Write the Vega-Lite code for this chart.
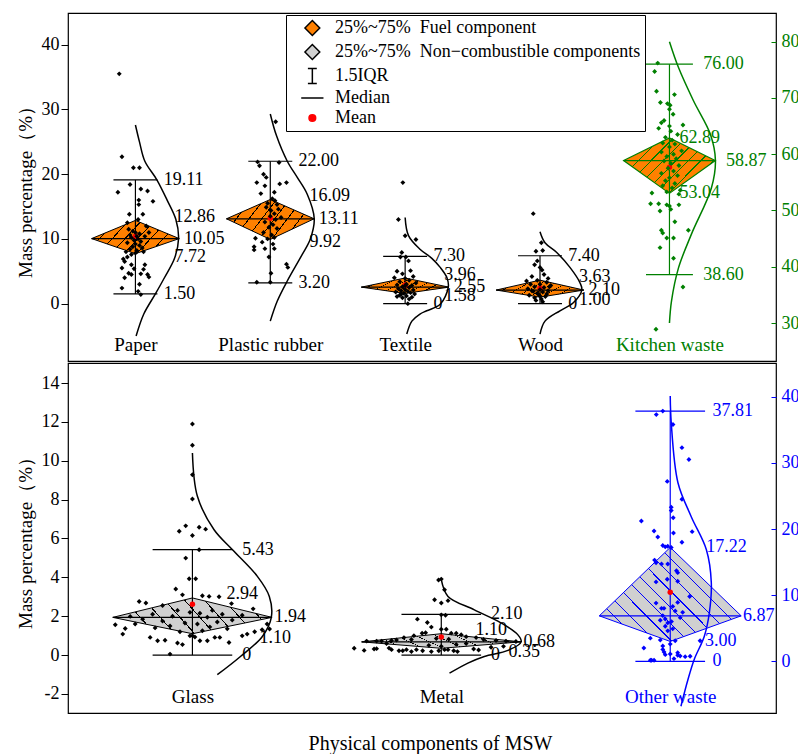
{
"$schema": "https://vega.github.io/schema/vega-lite/v6.json",
"padding": {"left": 15, "top": 12, "right": 0, "bottom": 0},
"spacing": 0,
"config": {
  "font": "Liberation Serif",
  "view": {"stroke": "black", "strokeWidth": 1.2},
  "axis": {"labelFont": "Liberation Serif", "titleFont": "Liberation Serif", "labelFontSize": 18, "titleFontSize": 19, "titleFontWeight": "normal", "labelColor": "black", "titleColor": "black", "tickColor": "black", "grid": false}
},
"datasets": {
  "stats": [
    {"c": "Paper", "g": "TL", "pos": 1, "wlo": 1.5, "q25": 7.72, "med": 10.05, "q75": 12.86, "whi": 19.11, "mean": 10.4},
    {"c": "Plastic rubber", "g": "TL", "pos": 2, "wlo": 3.2, "q25": 9.92, "med": 13.11, "q75": 16.09, "whi": 22.0, "mean": 13.2},
    {"c": "Textile", "g": "TL", "pos": 3, "wlo": 0, "q25": 1.58, "med": 2.55, "q75": 3.96, "whi": 7.3, "mean": 2.9},
    {"c": "Wood", "g": "TL", "pos": 4, "wlo": 0, "q25": 1.0, "med": 2.1, "q75": 3.63, "whi": 7.4, "mean": 2.4},
    {"c": "Kitchen waste", "g": "TR", "pos": 4.96, "wlo": 38.6, "q25": 53.04, "med": 58.87, "q75": 62.89, "whi": 76.0, "mean": 57.7},
    {"c": "Glass", "g": "BL", "pos": 1, "wlo": 0, "q25": 1.1, "med": 1.94, "q75": 2.94, "whi": 5.43, "mean": 2.62},
    {"c": "Metal", "g": "BL", "pos": 2, "wlo": 0, "q25": 0.35, "med": 0.68, "q75": 1.1, "whi": 2.1, "mean": 0.93},
    {"c": "Other waste", "g": "BR", "pos": 2.92, "wlo": 0, "q25": 3.0, "med": 6.87, "q75": 17.22, "whi": 37.81, "mean": 10.44}
  ],
  "curve": [
    {"c":"Paper","dx":0,"v":27.6},{"c":"Paper","dx":0.03,"v":25},{"c":"Paper","dx":0.07,"v":22},{"c":"Paper","dx":0.16,"v":19.1},{"c":"Paper","dx":0.235,"v":16},{"c":"Paper","dx":0.3,"v":13},{"c":"Paper","dx":0.32,"v":10.05},{"c":"Paper","dx":0.29,"v":7},{"c":"Paper","dx":0.215,"v":4},{"c":"Paper","dx":0.148,"v":1.5},{"c":"Paper","dx":0.062,"v":-1.6},{"c":"Paper","dx":0.005,"v":-5},
    {"c":"Plastic rubber","dx":0,"v":29.3},{"c":"Plastic rubber","dx":0.045,"v":26},{"c":"Plastic rubber","dx":0.126,"v":22},{"c":"Plastic rubber","dx":0.2,"v":19.5},{"c":"Plastic rubber","dx":0.274,"v":16.9},{"c":"Plastic rubber","dx":0.326,"v":13.11},{"c":"Plastic rubber","dx":0.297,"v":10},{"c":"Plastic rubber","dx":0.237,"v":7.6},{"c":"Plastic rubber","dx":0.126,"v":3.5},{"c":"Plastic rubber","dx":0.052,"v":0.4},{"c":"Plastic rubber","dx":0,"v":-2.7},
    {"c":"Textile","dx":0,"v":13.3},{"c":"Textile","dx":0.025,"v":10.5},{"c":"Textile","dx":0.11,"v":8.4},{"c":"Textile","dx":0.198,"v":7.0},{"c":"Textile","dx":0.26,"v":5.6},{"c":"Textile","dx":0.31,"v":4.0},{"c":"Textile","dx":0.32,"v":2.55},{"c":"Textile","dx":0.26,"v":-0.1},{"c":"Textile","dx":0.16,"v":-1.1},{"c":"Textile","dx":0.11,"v":-1.6},{"c":"Textile","dx":0.05,"v":-2.7},{"c":"Textile","dx":0.012,"v":-4.7},
    {"c":"Wood","dx":0,"v":11.1},{"c":"Wood","dx":0.037,"v":9.4},{"c":"Wood","dx":0.124,"v":7.9},{"c":"Wood","dx":0.222,"v":5.6},{"c":"Wood","dx":0.297,"v":3.2},{"c":"Wood","dx":0.31,"v":2.1},{"c":"Wood","dx":0.247,"v":0.15},{"c":"Wood","dx":0.148,"v":-1.1},{"c":"Wood","dx":0.037,"v":-2.7},{"c":"Wood","dx":0,"v":-4.7},
    {"c":"Kitchen waste","dx":0,"v":80},{"c":"Kitchen waste","dx":0.067,"v":75.4},{"c":"Kitchen waste","dx":0.178,"v":69.5},{"c":"Kitchen waste","dx":0.304,"v":63.5},{"c":"Kitchen waste","dx":0.341,"v":58.87},{"c":"Kitchen waste","dx":0.311,"v":54},{"c":"Kitchen waste","dx":0.163,"v":45.8},{"c":"Kitchen waste","dx":0.067,"v":39.8},{"c":"Kitchen waste","dx":0.015,"v":33.9},{"c":"Kitchen waste","dx":0,"v":30},
    {"c":"Glass","dx":0,"v":10.4},{"c":"Glass","dx":0.02,"v":8.17},{"c":"Glass","dx":0.087,"v":6.45},{"c":"Glass","dx":0.161,"v":5.42},{"c":"Glass","dx":0.261,"v":4.05},{"c":"Glass","dx":0.309,"v":3.02},{"c":"Glass","dx":0.317,"v":1.94},{"c":"Glass","dx":0.281,"v":0.96},{"c":"Glass","dx":0.193,"v":-0.07},{"c":"Glass","dx":0.1,"v":-1.01},
    {"c":"Metal","dx":0,"v":3.88},{"c":"Metal","dx":0.027,"v":3.02},{"c":"Metal","dx":0.133,"v":2.33},{"c":"Metal","dx":0.241,"v":1.65},{"c":"Metal","dx":0.308,"v":1.04},{"c":"Metal","dx":0.321,"v":0.68},{"c":"Metal","dx":0.268,"v":0.24},{"c":"Metal","dx":0.173,"v":-0.07},{"c":"Metal","dx":0.107,"v":-0.41},{"c":"Metal","dx":0.033,"v":-0.93},
    {"c":"Other waste","dx":0,"v":40.1},{"c":"Other waste","dx":0.004,"v":36.1},{"c":"Other waste","dx":0.031,"v":27.0},{"c":"Other waste","dx":0.084,"v":21.9},{"c":"Other waste","dx":0.145,"v":16.9},{"c":"Other waste","dx":0.165,"v":11.9},{"c":"Other waste","dx":0.157,"v":7.3},{"c":"Other waste","dx":0.137,"v":3.8},{"c":"Other waste","dx":0.096,"v":0.24},{"c":"Other waste","dx":0.071,"v":-2.8},{"c":"Other waste","dx":0.043,"v":-6.8}
  ],
  "pts": [
    {"c":"Paper","dx":-0.12,"v":35.5},{"c":"Paper","dx":-0.10,"v":22.7},{"c":"Paper","dx":-0.015,"v":21.0},{"c":"Paper","dx":0.03,"v":21.0},{"c":"Paper","dx":-0.04,"v":18.4},{"c":"Paper","dx":-0.13,"v":17.2},{"c":"Paper","dx":0.04,"v":17.7},{"c":"Paper","dx":0.09,"v":17.4},{"c":"Paper","dx":0.025,"v":16.0},{"c":"Paper","dx":0.025,"v":15.3},{"c":"Paper","dx":0.13,"v":15.8},{"c":"Paper","dx":-0.045,"v":13.8},{"c":"Paper","dx":0.055,"v":13.8},{"c":"Paper","dx":-0.06,"v":12.5},{"c":"Paper","dx":0.02,"v":13.0},{"c":"Paper","dx":-0.05,"v":11.5},{"c":"Paper","dx":-0.02,"v":11.2},{"c":"Paper","dx":0.0,"v":11.0},{"c":"Paper","dx":0.03,"v":10.8},{"c":"Paper","dx":-0.04,"v":10.6},{"c":"Paper","dx":0.01,"v":10.4},{"c":"Paper","dx":0.07,"v":10.4},{"c":"Paper","dx":-0.03,"v":10.2},{"c":"Paper","dx":0.02,"v":10.0},{"c":"Paper","dx":-0.01,"v":9.8},{"c":"Paper","dx":0.04,"v":9.6},{"c":"Paper","dx":-0.06,"v":9.4},{"c":"Paper","dx":0.0,"v":9.2},{"c":"Paper","dx":0.03,"v":9.0},{"c":"Paper","dx":-0.02,"v":8.8},{"c":"Paper","dx":0.05,"v":8.6},{"c":"Paper","dx":-0.04,"v":8.4},{"c":"Paper","dx":0.01,"v":8.2},{"c":"Paper","dx":-0.07,"v":8.0},{"c":"Paper","dx":0.06,"v":8.0},{"c":"Paper","dx":0.0,"v":7.8},{"c":"Paper","dx":-0.03,"v":7.6},{"c":"Paper","dx":-0.09,"v":6.9},{"c":"Paper","dx":-0.08,"v":6.5},{"c":"Paper","dx":-0.1,"v":5.5},{"c":"Paper","dx":-0.03,"v":6.0},{"c":"Paper","dx":0.07,"v":6.0},{"c":"Paper","dx":-0.01,"v":5.4},{"c":"Paper","dx":0.06,"v":5.3},{"c":"Paper","dx":-0.05,"v":4.7},{"c":"Paper","dx":-0.03,"v":4.5},{"c":"Paper","dx":-0.08,"v":4.0},{"c":"Paper","dx":0.04,"v":4.6},{"c":"Paper","dx":0.09,"v":4.5},{"c":"Paper","dx":0.03,"v":3.0},{"c":"Paper","dx":-0.1,"v":2.4},{"c":"Paper","dx":0.02,"v":1.9},{"c":"Paper","dx":0.04,"v":1.4},{"c":"Paper","dx":0.1,"v":4.1},{"c":"Paper","dx":-0.06,"v":7.2},{"c":"Paper","dx":0.08,"v":12.0},{"c":"Paper","dx":0.1,"v":11.0},
    {"c":"Plastic rubber","dx":0.04,"v":28.1},{"c":"Plastic rubber","dx":-0.094,"v":21.9},{"c":"Plastic rubber","dx":-0.08,"v":21.3},{"c":"Plastic rubber","dx":0.065,"v":21.8},{"c":"Plastic rubber","dx":-0.05,"v":20.0},{"c":"Plastic rubber","dx":-0.03,"v":19.5},{"c":"Plastic rubber","dx":-0.1,"v":18.7},{"c":"Plastic rubber","dx":-0.04,"v":18.2},{"c":"Plastic rubber","dx":0.07,"v":18.5},{"c":"Plastic rubber","dx":0.12,"v":18.7},{"c":"Plastic rubber","dx":0.03,"v":17.2},{"c":"Plastic rubber","dx":-0.07,"v":17.0},{"c":"Plastic rubber","dx":0.015,"v":16.2},{"c":"Plastic rubber","dx":0.035,"v":15.9},{"c":"Plastic rubber","dx":0.05,"v":15.3},{"c":"Plastic rubber","dx":-0.03,"v":14.9},{"c":"Plastic rubber","dx":0.005,"v":14.4},{"c":"Plastic rubber","dx":0.03,"v":13.9},{"c":"Plastic rubber","dx":-0.02,"v":15.5},{"c":"Plastic rubber","dx":0.06,"v":14.6},{"c":"Plastic rubber","dx":0.0,"v":13.5},{"c":"Plastic rubber","dx":0.04,"v":13.0},{"c":"Plastic rubber","dx":-0.04,"v":12.6},{"c":"Plastic rubber","dx":0.02,"v":12.2},{"c":"Plastic rubber","dx":-0.01,"v":11.8},{"c":"Plastic rubber","dx":0.05,"v":11.6},{"c":"Plastic rubber","dx":-0.05,"v":11.0},{"c":"Plastic rubber","dx":0.01,"v":10.6},{"c":"Plastic rubber","dx":0.03,"v":10.2},{"c":"Plastic rubber","dx":-0.02,"v":10.0},{"c":"Plastic rubber","dx":-0.11,"v":10.1},{"c":"Plastic rubber","dx":-0.12,"v":8.8},{"c":"Plastic rubber","dx":-0.12,"v":8.3},{"c":"Plastic rubber","dx":-0.04,"v":8.5},{"c":"Plastic rubber","dx":0.03,"v":8.5},{"c":"Plastic rubber","dx":-0.01,"v":7.2},{"c":"Plastic rubber","dx":0.12,"v":6.1},{"c":"Plastic rubber","dx":0.13,"v":5.6},{"c":"Plastic rubber","dx":0.005,"v":4.7},{"c":"Plastic rubber","dx":-0.1,"v":3.3},{"c":"Plastic rubber","dx":0.0,"v":3.3},{"c":"Plastic rubber","dx":0.08,"v":13.3},{"c":"Plastic rubber","dx":-0.06,"v":9.5},{"c":"Plastic rubber","dx":0.02,"v":9.2},
    {"c":"Textile","dx":-0.017,"v":18.7},{"c":"Textile","dx":-0.05,"v":13.0},{"c":"Textile","dx":0.0,"v":10.5},{"c":"Textile","dx":0.08,"v":9.9},{"c":"Textile","dx":-0.025,"v":7.9},{"c":"Textile","dx":-0.035,"v":7.2},{"c":"Textile","dx":0.005,"v":7.2},{"c":"Textile","dx":0.025,"v":6.6},{"c":"Textile","dx":-0.06,"v":5.0},{"c":"Textile","dx":0.04,"v":5.1},{"c":"Textile","dx":-0.02,"v":4.6},{"c":"Textile","dx":0.06,"v":4.2},{"c":"Textile","dx":-0.08,"v":4.0},{"c":"Textile","dx":0.0,"v":3.9},{"c":"Textile","dx":0.03,"v":3.6},{"c":"Textile","dx":-0.04,"v":3.4},{"c":"Textile","dx":0.08,"v":3.2},{"c":"Textile","dx":0.01,"v":3.0},{"c":"Textile","dx":-0.06,"v":2.9},{"c":"Textile","dx":0.05,"v":2.8},{"c":"Textile","dx":-0.02,"v":2.6},{"c":"Textile","dx":0.03,"v":2.5},{"c":"Textile","dx":-0.05,"v":2.3},{"c":"Textile","dx":0.0,"v":2.2},{"c":"Textile","dx":0.06,"v":2.1},{"c":"Textile","dx":-0.03,"v":2.0},{"c":"Textile","dx":0.02,"v":1.9},{"c":"Textile","dx":-0.07,"v":1.8},{"c":"Textile","dx":0.04,"v":1.7},{"c":"Textile","dx":-0.01,"v":1.6},{"c":"Textile","dx":0.07,"v":1.5},{"c":"Textile","dx":-0.04,"v":1.3},{"c":"Textile","dx":0.01,"v":1.2},{"c":"Textile","dx":-0.06,"v":1.1},{"c":"Textile","dx":0.05,"v":1.0},{"c":"Textile","dx":-0.02,"v":0.9},{"c":"Textile","dx":0.03,"v":0.7},{"c":"Textile","dx":0.02,"v":0.0},{"c":"Textile","dx":-0.03,"v":1.5},{"c":"Textile","dx":0.0,"v":2.8},
    {"c":"Wood","dx":-0.05,"v":13.9},{"c":"Wood","dx":0.01,"v":9.4},{"c":"Wood","dx":-0.03,"v":8.1},{"c":"Wood","dx":0.02,"v":8.2},{"c":"Wood","dx":-0.02,"v":6.6},{"c":"Wood","dx":-0.04,"v":6.0},{"c":"Wood","dx":0.0,"v":5.6},{"c":"Wood","dx":0.015,"v":5.2},{"c":"Wood","dx":-0.06,"v":4.2},{"c":"Wood","dx":0.03,"v":4.5},{"c":"Wood","dx":0.06,"v":3.9},{"c":"Wood","dx":-0.1,"v":3.5},{"c":"Wood","dx":-0.02,"v":3.6},{"c":"Wood","dx":0.05,"v":3.3},{"c":"Wood","dx":-0.07,"v":3.0},{"c":"Wood","dx":0.0,"v":3.0},{"c":"Wood","dx":0.08,"v":2.8},{"c":"Wood","dx":-0.04,"v":2.6},{"c":"Wood","dx":0.03,"v":2.5},{"c":"Wood","dx":-0.09,"v":2.3},{"c":"Wood","dx":0.0,"v":2.2},{"c":"Wood","dx":0.06,"v":2.0},{"c":"Wood","dx":-0.05,"v":1.9},{"c":"Wood","dx":0.02,"v":1.8},{"c":"Wood","dx":-0.02,"v":1.6},{"c":"Wood","dx":0.05,"v":1.5},{"c":"Wood","dx":-0.08,"v":1.3},{"c":"Wood","dx":0.0,"v":1.2},{"c":"Wood","dx":0.04,"v":1.1},{"c":"Wood","dx":-0.04,"v":0.9},{"c":"Wood","dx":0.01,"v":0.7},{"c":"Wood","dx":-0.03,"v":0.5},{"c":"Wood","dx":0.02,"v":0.3},{"c":"Wood","dx":-0.01,"v":1.4},{"c":"Wood","dx":0.07,"v":2.6},{"c":"Wood","dx":-0.06,"v":2.0},
    {"c":"Kitchen waste","dx":-0.087,"v":76.2},{"c":"Kitchen waste","dx":-0.11,"v":74.7},{"c":"Kitchen waste","dx":-0.096,"v":71.2},{"c":"Kitchen waste","dx":0.037,"v":70.6},{"c":"Kitchen waste","dx":-0.067,"v":69.2},{"c":"Kitchen waste","dx":-0.015,"v":69.0},{"c":"Kitchen waste","dx":0.005,"v":68.7},{"c":"Kitchen waste","dx":0.0,"v":68.0},{"c":"Kitchen waste","dx":0.027,"v":67.1},{"c":"Kitchen waste","dx":-0.04,"v":66.0},{"c":"Kitchen waste","dx":-0.06,"v":65.6},{"c":"Kitchen waste","dx":0.10,"v":65.2},{"c":"Kitchen waste","dx":-0.08,"v":64.6},{"c":"Kitchen waste","dx":0.0,"v":65.0},{"c":"Kitchen waste","dx":0.01,"v":64.1},{"c":"Kitchen waste","dx":0.06,"v":63.5},{"c":"Kitchen waste","dx":-0.03,"v":63.0},{"c":"Kitchen waste","dx":0.02,"v":62.5},{"c":"Kitchen waste","dx":-0.05,"v":62.0},{"c":"Kitchen waste","dx":0.04,"v":61.8},{"c":"Kitchen waste","dx":0.0,"v":61.3},{"c":"Kitchen waste","dx":0.09,"v":60.6},{"c":"Kitchen waste","dx":-0.06,"v":60.4},{"c":"Kitchen waste","dx":0.03,"v":60.0},{"c":"Kitchen waste","dx":-0.02,"v":59.6},{"c":"Kitchen waste","dx":0.05,"v":59.2},{"c":"Kitchen waste","dx":-0.04,"v":58.8},{"c":"Kitchen waste","dx":0.01,"v":58.4},{"c":"Kitchen waste","dx":0.07,"v":58.0},{"c":"Kitchen waste","dx":-0.01,"v":57.5},{"c":"Kitchen waste","dx":0.03,"v":57.0},{"c":"Kitchen waste","dx":-0.06,"v":56.6},{"c":"Kitchen waste","dx":0.06,"v":56.2},{"c":"Kitchen waste","dx":0.0,"v":55.8},{"c":"Kitchen waste","dx":-0.03,"v":55.3},{"c":"Kitchen waste","dx":0.04,"v":54.8},{"c":"Kitchen waste","dx":-0.05,"v":54.4},{"c":"Kitchen waste","dx":0.02,"v":54.0},{"c":"Kitchen waste","dx":0.08,"v":53.6},{"c":"Kitchen waste","dx":-0.02,"v":53.3},{"c":"Kitchen waste","dx":-0.13,"v":53.1},{"c":"Kitchen waste","dx":0.07,"v":52.9},{"c":"Kitchen waste","dx":-0.14,"v":51.2},{"c":"Kitchen waste","dx":-0.08,"v":51.2},{"c":"Kitchen waste","dx":-0.02,"v":51.0},{"c":"Kitchen waste","dx":0.0,"v":50.8},{"c":"Kitchen waste","dx":0.07,"v":51.0},{"c":"Kitchen waste","dx":-0.07,"v":49.9},{"c":"Kitchen waste","dx":-0.06,"v":46.5},{"c":"Kitchen waste","dx":-0.05,"v":46.0},{"c":"Kitchen waste","dx":-0.02,"v":45.1},{"c":"Kitchen waste","dx":0.03,"v":45.1},{"c":"Kitchen waste","dx":-0.07,"v":43.4},{"c":"Kitchen waste","dx":0.03,"v":41.5},{"c":"Kitchen waste","dx":0.1,"v":36.4},{"c":"Kitchen waste","dx":-0.1,"v":28.9},{"c":"Kitchen waste","dx":0.14,"v":46.5},{"c":"Kitchen waste","dx":0.01,"v":50.2},{"c":"Kitchen waste","dx":0.04,"v":48.0},
    {"c":"Glass","dx":0,"v":11.89},{"c":"Glass","dx":0,"v":10.8},{"c":"Glass","dx":0,"v":9.28},{"c":"Glass","dx":0,"v":8.03},{"c":"Glass","dx":-0.027,"v":6.65},{"c":"Glass","dx":-0.053,"v":6.37},{"c":"Glass","dx":0.027,"v":6.58},{"c":"Glass","dx":0.053,"v":6.48},{"c":"Glass","dx":0,"v":6.15},{"c":"Glass","dx":0.027,"v":5.42},{"c":"Glass","dx":-0.027,"v":4.99},{"c":"Glass","dx":-0.013,"v":3.93},{"c":"Glass","dx":0.013,"v":3.93},{"c":"Glass","dx":-0.067,"v":3.4},{"c":"Glass","dx":-0.04,"v":3.1},{"c":"Glass","dx":0.04,"v":3.05},{"c":"Glass","dx":0.067,"v":3.02},{"c":"Glass","dx":0.107,"v":3.0},{"c":"Glass","dx":-0.214,"v":2.76},{"c":"Glass","dx":-0.187,"v":2.68},{"c":"Glass","dx":0.157,"v":2.65},{"c":"Glass","dx":0.244,"v":2.38},{"c":"Glass","dx":-0.12,"v":2.55},{"c":"Glass","dx":-0.06,"v":2.3},{"c":"Glass","dx":0.08,"v":2.3},{"c":"Glass","dx":-0.01,"v":2.2},{"c":"Glass","dx":0.03,"v":2.15},{"c":"Glass","dx":-0.16,"v":2.1},{"c":"Glass","dx":0.12,"v":2.1},{"c":"Glass","dx":-0.25,"v":1.99},{"c":"Glass","dx":0.2,"v":2.05},{"c":"Glass","dx":-0.08,"v":2.0},{"c":"Glass","dx":0.06,"v":1.95},{"c":"Glass","dx":-0.2,"v":1.85},{"c":"Glass","dx":0.16,"v":1.8},{"c":"Glass","dx":-0.12,"v":1.75},{"c":"Glass","dx":0.1,"v":1.7},{"c":"Glass","dx":-0.03,"v":1.65},{"c":"Glass","dx":0.02,"v":1.6},{"c":"Glass","dx":-0.31,"v":1.56},{"c":"Glass","dx":-0.27,"v":1.37},{"c":"Glass","dx":-0.09,"v":1.5},{"c":"Glass","dx":0.07,"v":1.45},{"c":"Glass","dx":-0.15,"v":1.4},{"c":"Glass","dx":0.14,"v":1.35},{"c":"Glass","dx":-0.05,"v":1.2},{"c":"Glass","dx":0.04,"v":1.25},{"c":"Glass","dx":-0.28,"v":1.08},{"c":"Glass","dx":-0.17,"v":0.91},{"c":"Glass","dx":-0.14,"v":0.74},{"c":"Glass","dx":-0.11,"v":0.76},{"c":"Glass","dx":-0.09,"v":0.05},{"c":"Glass","dx":-0.06,"v":0.62},{"c":"Glass","dx":-0.04,"v":0.54},{"c":"Glass","dx":-0.01,"v":0.99},{"c":"Glass","dx":0.01,"v":0.93},{"c":"Glass","dx":0.03,"v":0.74},{"c":"Glass","dx":0.06,"v":0.74},{"c":"Glass","dx":0.09,"v":0.91},{"c":"Glass","dx":0.11,"v":0.91},{"c":"Glass","dx":0.147,"v":0.65},{"c":"Glass","dx":0.2,"v":0.99},{"c":"Glass","dx":0.22,"v":1.08},{"c":"Glass","dx":0.25,"v":1.2},{"c":"Glass","dx":0.28,"v":1.3},{"c":"Glass","dx":0.31,"v":1.34},{"c":"Glass","dx":0.0,"v":1.0},{"c":"Glass","dx":0.3,"v":1.6},{"c":"Glass","dx":-0.23,"v":1.6},
    {"c":"Metal","dx":0,"v":3.91},{"c":"Metal","dx":-0.011,"v":3.86},{"c":"Metal","dx":0.013,"v":3.36},{"c":"Metal","dx":-0.027,"v":2.85},{"c":"Metal","dx":0,"v":2.68},{"c":"Metal","dx":0.027,"v":2.8},{"c":"Metal","dx":0,"v":2.07},{"c":"Metal","dx":0.017,"v":2.05},{"c":"Metal","dx":-0.096,"v":1.85},{"c":"Metal","dx":-0.056,"v":1.68},{"c":"Metal","dx":-0.04,"v":1.44},{"c":"Metal","dx":0,"v":1.33},{"c":"Metal","dx":0.02,"v":1.33},{"c":"Metal","dx":-0.077,"v":1.12},{"c":"Metal","dx":-0.063,"v":1.15},{"c":"Metal","dx":0.04,"v":1.13},{"c":"Metal","dx":0.06,"v":1.13},{"c":"Metal","dx":0.08,"v":1.05},{"c":"Metal","dx":-0.11,"v":1.0},{"c":"Metal","dx":0.1,"v":0.95},{"c":"Metal","dx":-0.15,"v":0.9},{"c":"Metal","dx":0.14,"v":0.9},{"c":"Metal","dx":-0.3,"v":0.72},{"c":"Metal","dx":-0.26,"v":0.72},{"c":"Metal","dx":-0.24,"v":0.72},{"c":"Metal","dx":-0.2,"v":0.75},{"c":"Metal","dx":-0.18,"v":0.78},{"c":"Metal","dx":-0.12,"v":0.8},{"c":"Metal","dx":-0.02,"v":0.85},{"c":"Metal","dx":0.03,"v":0.82},{"c":"Metal","dx":0.17,"v":0.8},{"c":"Metal","dx":0.22,"v":0.75},{"c":"Metal","dx":0.26,"v":0.72},{"c":"Metal","dx":0.3,"v":0.7},{"c":"Metal","dx":-0.31,"v":0.24},{"c":"Metal","dx":-0.27,"v":0.31},{"c":"Metal","dx":-0.26,"v":0.33},{"c":"Metal","dx":-0.21,"v":0.36},{"c":"Metal","dx":-0.2,"v":0.28},{"c":"Metal","dx":-0.17,"v":0.22},{"c":"Metal","dx":-0.155,"v":0.22},{"c":"Metal","dx":-0.14,"v":0.28},{"c":"Metal","dx":-0.12,"v":0.18},{"c":"Metal","dx":-0.1,"v":0.28},{"c":"Metal","dx":-0.075,"v":0.22},{"c":"Metal","dx":-0.04,"v":0.18},{"c":"Metal","dx":-0.01,"v":0.22},{"c":"Metal","dx":0.013,"v":0.28},{"c":"Metal","dx":0.027,"v":0.28},{"c":"Metal","dx":0.05,"v":0.22},{"c":"Metal","dx":0.065,"v":0.18},{"c":"Metal","dx":0.13,"v":0.31},{"c":"Metal","dx":0.15,"v":0.26},{"c":"Metal","dx":0.2,"v":0.4},{"c":"Metal","dx":-0.05,"v":0.5},{"c":"Metal","dx":0.06,"v":0.55},{"c":"Metal","dx":-0.22,"v":0.6},{"c":"Metal","dx":0.1,"v":0.6},{"c":"Metal","dx":-0.35,"v":0.35},{"c":"Metal","dx":0.0,"v":0.45},{"c":"Metal","dx":0.25,"v":0.45},
    {"c":"Other waste","dx":-0.03,"v":37.83},{"c":"Other waste","dx":-0.056,"v":37.3},{"c":"Other waste","dx":0.011,"v":35.8},{"c":"Other waste","dx":0.047,"v":32.3},{"c":"Other waste","dx":0.075,"v":30.5},{"c":"Other waste","dx":-0.012,"v":27.2},{"c":"Other waste","dx":0.047,"v":24.5},{"c":"Other waste","dx":0.004,"v":23.3},{"c":"Other waste","dx":0.004,"v":22.8},{"c":"Other waste","dx":0.012,"v":21.7},{"c":"Other waste","dx":-0.116,"v":21.2},{"c":"Other waste","dx":0.013,"v":19.4},{"c":"Other waste","dx":0.088,"v":19.6},{"c":"Other waste","dx":-0.065,"v":19.7},{"c":"Other waste","dx":-0.05,"v":18.8},{"c":"Other waste","dx":0.047,"v":18.0},{"c":"Other waste","dx":-0.03,"v":17.5},{"c":"Other waste","dx":-0.02,"v":17.3},{"c":"Other waste","dx":-0.01,"v":17.4},{"c":"Other waste","dx":0.004,"v":17.2},{"c":"Other waste","dx":-0.063,"v":15.3},{"c":"Other waste","dx":-0.057,"v":14.9},{"c":"Other waste","dx":-0.035,"v":14.7},{"c":"Other waste","dx":-0.01,"v":14.7},{"c":"Other waste","dx":0.025,"v":13.7},{"c":"Other waste","dx":0.03,"v":13.4},{"c":"Other waste","dx":-0.012,"v":12.4},{"c":"Other waste","dx":-0.057,"v":12.0},{"c":"Other waste","dx":0.03,"v":12.1},{"c":"Other waste","dx":0.078,"v":9.8},{"c":"Other waste","dx":0.03,"v":8.9},{"c":"Other waste","dx":-0.057,"v":8.8},{"c":"Other waste","dx":-0.035,"v":8.0},{"c":"Other waste","dx":-0.025,"v":8.0},{"c":"Other waste","dx":0.01,"v":8.3},{"c":"Other waste","dx":0.02,"v":7.6},{"c":"Other waste","dx":0.05,"v":7.4},{"c":"Other waste","dx":0.04,"v":6.6},{"c":"Other waste","dx":-0.03,"v":6.9},{"c":"Other waste","dx":-0.02,"v":6.4},{"c":"Other waste","dx":-0.04,"v":6.2},{"c":"Other waste","dx":-0.01,"v":5.8},{"c":"Other waste","dx":0.005,"v":6.0},{"c":"Other waste","dx":-0.02,"v":5.3},{"c":"Other waste","dx":0.01,"v":4.9},{"c":"Other waste","dx":-0.01,"v":4.6},{"c":"Other waste","dx":-0.08,"v":3.5},{"c":"Other waste","dx":-0.04,"v":3.2},{"c":"Other waste","dx":0.02,"v":3.1},{"c":"Other waste","dx":0.12,"v":3.1},{"c":"Other waste","dx":-0.106,"v":2.0},{"c":"Other waste","dx":-0.03,"v":2.3},{"c":"Other waste","dx":-0.03,"v":1.8},{"c":"Other waste","dx":-0.025,"v":1.4},{"c":"Other waste","dx":-0.02,"v":1.0},{"c":"Other waste","dx":0.03,"v":1.3},{"c":"Other waste","dx":0.03,"v":0.9},{"c":"Other waste","dx":0.0,"v":1.1},{"c":"Other waste","dx":-0.08,"v":0.15},{"c":"Other waste","dx":-0.075,"v":0.15},{"c":"Other waste","dx":-0.065,"v":0.15},{"c":"Other waste","dx":0.04,"v":0.8},{"c":"Other waste","dx":0.06,"v":0.7},{"c":"Other waste","dx":0.08,"v":0.75},{"c":"Other waste","dx":0.015,"v":0.4},{"c":"Other waste","dx":0.0,"v":2.6}
  ]
},
"vconcat": [
{
  "width": 708, "height": 348,
  "resolve": {"scale": {"y": "independent"}},
  "layer": [
  {"layer": [
    {"data": {"name": "stats"},
     "transform": [{"filter": "datum.g == 'TL'"},
       {"calculate": "[datum.pos - 0.325, datum.pos, datum.pos + 0.325]", "as": "ax"},
       {"calculate": "[datum.med, datum.q75, datum.med]", "as": "ay"},
       {"calculate": "[datum.med, datum.q25, datum.med]", "as": "al"},
       {"flatten": ["ax", "ay", "al"]}],
     "mark": {"type": "area", "stroke": "black", "strokeWidth": 1, "opacity": 1,
       "fill": {"gradient": "linear", "x1": 0, "y1": 0, "x2": 1, "y2": 0.35, "stops": [
         {"offset": 0, "color": "#FF8000"},
         {"offset": 0.244, "color": "#FF8000"}, {"offset": 0.244, "color": "#000000"}, {"offset": 0.256, "color": "#000000"}, {"offset": 0.256, "color": "#FF8000"},
         {"offset": 0.374, "color": "#FF8000"}, {"offset": 0.374, "color": "#000000"}, {"offset": 0.386, "color": "#000000"}, {"offset": 0.386, "color": "#FF8000"},
         {"offset": 0.504, "color": "#FF8000"}, {"offset": 0.504, "color": "#000000"}, {"offset": 0.516, "color": "#000000"}, {"offset": 0.516, "color": "#FF8000"},
         {"offset": 0.634, "color": "#FF8000"}, {"offset": 0.634, "color": "#000000"}, {"offset": 0.646, "color": "#000000"}, {"offset": 0.646, "color": "#FF8000"},
         {"offset": 0.764, "color": "#FF8000"}, {"offset": 0.764, "color": "#000000"}, {"offset": 0.776, "color": "#000000"}, {"offset": 0.776, "color": "#FF8000"},
         {"offset": 0.894, "color": "#FF8000"}, {"offset": 0.894, "color": "#000000"}, {"offset": 0.906, "color": "#000000"}, {"offset": 0.906, "color": "#FF8000"},
         {"offset": 1, "color": "#FF8000"}]}},
     "encoding": {
       "x": {"field": "ax", "type": "quantitative", "scale": {"domain": [0.5, 5.75], "nice": false, "zero": false},
         "axis": {"values": [1, 2, 3, 4, 4.96], "labelExpr": "datum.value < 1.5 ? 'Paper' : datum.value < 2.5 ? 'Plastic rubber' : datum.value < 3.5 ? 'Textile' : datum.value < 4.5 ? 'Wood' : 'Kitchen waste'",
           "labelColor": {"condition": {"test": "datum.value > 4.5", "value": "#008000"}, "value": "black"},
           "ticks": false, "domain": false, "labelPadding": -26, "labelFontSize": 19, "title": null, "labelOverlap": false, "labelFlush": false}},
       "y": {"field": "ay", "type": "quantitative", "stack": null, "scale": {"domain": [-8.86, 44.9], "nice": false, "zero": false},
         "axis": {"orient": "left", "values": [0, 10, 20, 30, 40], "title": "Mass percentage（%）", "tickSize": 7, "labelPadding": 2, "minExtent": 28, "maxExtent": 28, "titlePadding": 5, "domain": false}},
       "y2": {"field": "al"},
       "detail": {"field": "c"}}},
    {"data": {"name": "stats"}, "transform": [{"filter": "datum.g == 'TL'"}],
     "mark": {"type": "rule", "color": "black", "strokeWidth": 1.2},
     "encoding": {"x": {"field": "pos", "type": "quantitative", "scale": {"domain": [0.5, 5.75], "nice": false, "zero": false}},
       "y": {"field": "wlo", "type": "quantitative", "scale": {"domain": [-8.86, 44.9], "nice": false, "zero": false}},
       "y2": {"field": "whi"}}},
    {"data": {"name": "stats"}, "transform": [{"filter": "datum.g == 'TL'"}, {"fold": ["wlo", "whi"], "as": ["k", "val"]},
       {"calculate": "datum.pos - 0.163", "as": "cx1"}, {"calculate": "datum.pos + 0.163", "as": "cx2"}],
     "mark": {"type": "rule", "color": "black", "strokeWidth": 1.2},
     "encoding": {"x": {"field": "cx1", "type": "quantitative", "scale": {"domain": [0.5, 5.75], "nice": false, "zero": false}},
       "x2": {"field": "cx2"},
       "y": {"field": "val", "type": "quantitative", "scale": {"domain": [-8.86, 44.9], "nice": false, "zero": false}}}},
    {"data": {"name": "stats"}, "transform": [{"filter": "datum.g == 'TL'"},
       {"calculate": "datum.pos - 0.325", "as": "mx1"}, {"calculate": "datum.pos + 0.325", "as": "mx2"}],
     "mark": {"type": "rule", "color": "black", "strokeWidth": 1.2},
     "encoding": {"x": {"field": "mx1", "type": "quantitative", "scale": {"domain": [0.5, 5.75], "nice": false, "zero": false}},
       "x2": {"field": "mx2"},
       "y": {"field": "med", "type": "quantitative", "scale": {"domain": [-8.86, 44.9], "nice": false, "zero": false}}}},
    {"data": {"name": "stats"}, "transform": [{"filter": "datum.g == 'TL'"}],
     "mark": {"type": "point", "shape": "circle", "filled": true, "color": "#FF0000", "size": 30, "opacity": 1},
     "encoding": {"x": {"field": "pos", "type": "quantitative", "scale": {"domain": [0.5, 5.75], "nice": false, "zero": false}},
       "y": {"field": "mean", "type": "quantitative", "scale": {"domain": [-8.86, 44.9], "nice": false, "zero": false}}}},
    {"data": {"name": "pts"}, "transform": [{"lookup": "c", "from": {"data": {"name": "stats"}, "key": "c", "fields": ["pos", "g"]}},
       {"filter": "datum.g == 'TL'"}, {"calculate": "datum.pos + datum.dx", "as": "px"}],
     "mark": {"type": "point", "shape": "diamond", "filled": true, "color": "black", "size": 24, "opacity": 1},
     "encoding": {"x": {"field": "px", "type": "quantitative", "scale": {"domain": [0.5, 5.75], "nice": false, "zero": false}},
       "y": {"field": "v", "type": "quantitative", "scale": {"domain": [-8.86, 44.9], "nice": false, "zero": false}}}},
    {"data": {"name": "curve"}, "transform": [{"lookup": "c", "from": {"data": {"name": "stats"}, "key": "c", "fields": ["pos", "g"]}},
       {"filter": "datum.g == 'TL'"}, {"calculate": "datum.pos + datum.dx", "as": "px"}],
     "mark": {"type": "line", "color": "black", "strokeWidth": 1.5, "interpolate": "catmull-rom"},
     "encoding": {"x": {"field": "px", "type": "quantitative", "scale": {"domain": [0.5, 5.75], "nice": false, "zero": false}},
       "y": {"field": "v", "type": "quantitative", "scale": {"domain": [-8.86, 44.9], "nice": false, "zero": false}},
       "detail": {"field": "c"}, "order": {"field": "v", "type": "quantitative"}}},
    {"data": {"name": "stats"}, "transform": [{"filter": "datum.g == 'TL'"}, {"fold": ["wlo", "whi"], "as": ["k", "val"]},
       {"calculate": "datum.val == 0 ? '0' : format(datum.val, '.2f')", "as": "lab"}, {"calculate": "datum.pos + 0.21", "as": "lx"}],
     "mark": {"type": "text", "align": "left", "baseline": "middle", "font": "Liberation Serif", "fontSize": 18, "color": "black"},
     "encoding": {"x": {"field": "lx", "type": "quantitative", "scale": {"domain": [0.5, 5.75], "nice": false, "zero": false}},
       "y": {"field": "val", "type": "quantitative", "scale": {"domain": [-8.86, 44.9], "nice": false, "zero": false}},
       "text": {"field": "lab"}}},
    {"data": {"name": "stats"}, "transform": [{"filter": "datum.g == 'TL'"},
       {"calculate": "format(datum.q75, '.2f')", "as": "lab"}, {"calculate": "datum.pos + 0.29", "as": "lx"}],
     "mark": {"type": "text", "align": "left", "baseline": "middle", "font": "Liberation Serif", "fontSize": 18, "color": "black", "dy": -3},
     "encoding": {"x": {"field": "lx", "type": "quantitative", "scale": {"domain": [0.5, 5.75], "nice": false, "zero": false}},
       "y": {"field": "q75", "type": "quantitative", "scale": {"domain": [-8.86, 44.9], "nice": false, "zero": false}},
       "text": {"field": "lab"}}},
    {"data": {"name": "stats"}, "transform": [{"filter": "datum.g == 'TL'"},
       {"calculate": "format(datum.med, '.2f')", "as": "lab"}, {"calculate": "datum.pos + 0.36", "as": "lx"}],
     "mark": {"type": "text", "align": "left", "baseline": "middle", "font": "Liberation Serif", "fontSize": 18, "color": "black"},
     "encoding": {"x": {"field": "lx", "type": "quantitative", "scale": {"domain": [0.5, 5.75], "nice": false, "zero": false}},
       "y": {"field": "med", "type": "quantitative", "scale": {"domain": [-8.86, 44.9], "nice": false, "zero": false}},
       "text": {"field": "lab"}}},
    {"data": {"name": "stats"}, "transform": [{"filter": "datum.g == 'TL'"},
       {"calculate": "format(datum.q25, '.2f')", "as": "lab"}, {"calculate": "datum.pos + 0.29", "as": "lx"}],
     "mark": {"type": "text", "align": "left", "baseline": "middle", "font": "Liberation Serif", "fontSize": 18, "color": "black", "dy": 3},
     "encoding": {"x": {"field": "lx", "type": "quantitative", "scale": {"domain": [0.5, 5.75], "nice": false, "zero": false}},
       "y": {"field": "q25", "type": "quantitative", "scale": {"domain": [-8.86, 44.9], "nice": false, "zero": false}},
       "text": {"field": "lab"}}},
    {"data": {"values": [{"item": "25%~75%\u00a0 Fuel component"}, {"item": "25%~75%\u00a0 Non−combustible components"}, {"item": "1.5IQR"}, {"item": "Median"}, {"item": "Mean"}]},
     "mark": {"type": "point", "filled": true, "clip": true},
     "encoding": {
       "x": {"datum": -5, "type": "quantitative", "scale": {"domain": [0.5, 5.75], "nice": false, "zero": false}},
       "y": {"datum": -100, "type": "quantitative", "scale": {"domain": [-8.86, 44.9], "nice": false, "zero": false}},
       "shape": {"field": "item", "type": "nominal",
         "scale": {"domain": ["25%~75%\u00a0 Fuel component", "25%~75%\u00a0 Non−combustible components", "1.5IQR", "Median", "Mean"],
                   "range": ["M0.8,0L1.8,-1L2.8,0L1.8,1Z", "M0.8,0L1.8,-1L2.8,0L1.8,1Z", "M1.2,-1H2.4M1.8,-1V1M1.2,1H2.4", "M0.3,0H3.3", "M2.25,0A0.45,0.45 0 1,1 1.35,0A0.45,0.45 0 1,1 2.25,0Z"]},
         "legend": {"title": null, "orient": "none", "legendX": 218, "legendY": 2, "strokeColor": "black", "fillColor": "white", "padding": 4, "labelFont": "Liberation Serif", "labelFontSize": 18, "labelLimit": 500, "symbolSize": 220, "symbolStrokeWidth": 1.5, "rowPadding": 2, "labelOffset": 27, "symbolOpacity": 1}},
       "fill": {"field": "item", "type": "nominal",
         "scale": {"domain": ["25%~75%\u00a0 Fuel component", "25%~75%\u00a0 Non−combustible components", "1.5IQR", "Median", "Mean"],
                   "range": ["#FF8000", "#D0D0D0", "transparent", "transparent", "#FF0000"]},
         "legend": {"title": null, "orient": "none", "legendX": 218, "legendY": 2, "strokeColor": "black", "fillColor": "white", "padding": 4, "labelFont": "Liberation Serif", "labelFontSize": 18, "labelLimit": 500, "symbolSize": 220, "symbolStrokeWidth": 1.5, "rowPadding": 2, "labelOffset": 27, "symbolOpacity": 1}},
       "stroke": {"field": "item", "type": "nominal",
         "scale": {"domain": ["25%~75%\u00a0 Fuel component", "25%~75%\u00a0 Non−combustible components", "1.5IQR", "Median", "Mean"],
                   "range": ["black", "black", "black", "black", "#FF0000"]},
         "legend": {"title": null, "orient": "none", "legendX": 218, "legendY": 2, "strokeColor": "black", "fillColor": "white", "padding": 4, "labelFont": "Liberation Serif", "labelFontSize": 18, "labelLimit": 500, "symbolSize": 220, "symbolStrokeWidth": 1.5, "rowPadding": 2, "labelOffset": 27, "symbolOpacity": 1}}}}
  ]},
  {"layer": [
    {"data": {"name": "stats"},
     "transform": [{"filter": "datum.g == 'TR'"},
       {"calculate": "[datum.pos - 0.34, datum.pos, datum.pos + 0.34]", "as": "ax"},
       {"calculate": "[datum.med, datum.q75, datum.med]", "as": "ay"},
       {"calculate": "[datum.med, datum.q25, datum.med]", "as": "al"},
       {"flatten": ["ax", "ay", "al"]}],
     "mark": {"type": "area", "stroke": "#008000", "strokeWidth": 1.2, "opacity": 1,
       "fill": {"gradient": "linear", "x1": 0, "y1": 0, "x2": 1, "y2": 0.6, "stops": [
         {"offset": 0, "color": "#FF8000"},
         {"offset": 0.295, "color": "#FF8000"}, {"offset": 0.295, "color": "#008000"}, {"offset": 0.305, "color": "#008000"}, {"offset": 0.305, "color": "#FF8000"},
         {"offset": 0.395, "color": "#FF8000"}, {"offset": 0.395, "color": "#008000"}, {"offset": 0.405, "color": "#008000"}, {"offset": 0.405, "color": "#FF8000"},
         {"offset": 0.495, "color": "#FF8000"}, {"offset": 0.495, "color": "#008000"}, {"offset": 0.505, "color": "#008000"}, {"offset": 0.505, "color": "#FF8000"},
         {"offset": 0.595, "color": "#FF8000"}, {"offset": 0.595, "color": "#008000"}, {"offset": 0.605, "color": "#008000"}, {"offset": 0.605, "color": "#FF8000"},
         {"offset": 0.695, "color": "#FF8000"}, {"offset": 0.695, "color": "#008000"}, {"offset": 0.705, "color": "#008000"}, {"offset": 0.705, "color": "#FF8000"},
         {"offset": 0.795, "color": "#FF8000"}, {"offset": 0.795, "color": "#008000"}, {"offset": 0.805, "color": "#008000"}, {"offset": 0.805, "color": "#FF8000"},
         {"offset": 0.895, "color": "#FF8000"}, {"offset": 0.895, "color": "#008000"}, {"offset": 0.905, "color": "#008000"}, {"offset": 0.905, "color": "#FF8000"},
         {"offset": 1, "color": "#FF8000"}]}},
     "encoding": {
       "x": {"field": "ax", "type": "quantitative", "scale": {"domain": [0.5, 5.75], "nice": false, "zero": false}},
       "y": {"field": "ay", "type": "quantitative", "stack": null, "scale": {"domain": [23.25, 85.1], "nice": false, "zero": false},
         "axis": {"orient": "right", "values": [30, 40, 50, 60, 70, 80], "title": null, "labelColor": "#008000", "tickColor": "#008000", "tickSize": -5, "labelPadding": 10, "domain": false}},
       "y2": {"field": "al"},
       "detail": {"field": "c"}}},
    {"data": {"name": "stats"}, "transform": [{"filter": "datum.g == 'TR'"}],
     "mark": {"type": "rule", "color": "#008000", "strokeWidth": 1.2},
     "encoding": {"x": {"field": "pos", "type": "quantitative", "scale": {"domain": [0.5, 5.75], "nice": false, "zero": false}},
       "y": {"field": "wlo", "type": "quantitative", "scale": {"domain": [23.25, 85.1], "nice": false, "zero": false}},
       "y2": {"field": "whi"}}},
    {"data": {"name": "stats"}, "transform": [{"filter": "datum.g == 'TR'"}, {"fold": ["wlo", "whi"], "as": ["k", "val"]},
       {"calculate": "datum.pos - 0.174", "as": "cx1"}, {"calculate": "datum.pos + 0.174", "as": "cx2"}],
     "mark": {"type": "rule", "color": "#008000", "strokeWidth": 1.2},
     "encoding": {"x": {"field": "cx1", "type": "quantitative", "scale": {"domain": [0.5, 5.75], "nice": false, "zero": false}},
       "x2": {"field": "cx2"},
       "y": {"field": "val", "type": "quantitative", "scale": {"domain": [23.25, 85.1], "nice": false, "zero": false}}}},
    {"data": {"name": "stats"}, "transform": [{"filter": "datum.g == 'TR'"},
       {"calculate": "datum.pos - 0.34", "as": "mx1"}, {"calculate": "datum.pos + 0.34", "as": "mx2"}],
     "mark": {"type": "rule", "color": "#008000", "strokeWidth": 1.2},
     "encoding": {"x": {"field": "mx1", "type": "quantitative", "scale": {"domain": [0.5, 5.75], "nice": false, "zero": false}},
       "x2": {"field": "mx2"},
       "y": {"field": "med", "type": "quantitative", "scale": {"domain": [23.25, 85.1], "nice": false, "zero": false}}}},
    {"data": {"name": "stats"}, "transform": [{"filter": "datum.g == 'TR'"}],
     "mark": {"type": "point", "shape": "circle", "filled": true, "color": "#FF0000", "size": 30, "opacity": 1},
     "encoding": {"x": {"field": "pos", "type": "quantitative", "scale": {"domain": [0.5, 5.75], "nice": false, "zero": false}},
       "y": {"field": "mean", "type": "quantitative", "scale": {"domain": [23.25, 85.1], "nice": false, "zero": false}}}},
    {"data": {"name": "pts"}, "transform": [{"lookup": "c", "from": {"data": {"name": "stats"}, "key": "c", "fields": ["pos", "g"]}},
       {"filter": "datum.g == 'TR'"}, {"calculate": "datum.pos + datum.dx", "as": "px"}],
     "mark": {"type": "point", "shape": "diamond", "filled": true, "color": "#008000", "size": 24, "opacity": 1},
     "encoding": {"x": {"field": "px", "type": "quantitative", "scale": {"domain": [0.5, 5.75], "nice": false, "zero": false}},
       "y": {"field": "v", "type": "quantitative", "scale": {"domain": [23.25, 85.1], "nice": false, "zero": false}}}},
    {"data": {"name": "curve"}, "transform": [{"lookup": "c", "from": {"data": {"name": "stats"}, "key": "c", "fields": ["pos", "g"]}},
       {"filter": "datum.g == 'TR'"}, {"calculate": "datum.pos + datum.dx", "as": "px"}],
     "mark": {"type": "line", "color": "#008000", "strokeWidth": 1.5, "interpolate": "catmull-rom"},
     "encoding": {"x": {"field": "px", "type": "quantitative", "scale": {"domain": [0.5, 5.75], "nice": false, "zero": false}},
       "y": {"field": "v", "type": "quantitative", "scale": {"domain": [23.25, 85.1], "nice": false, "zero": false}},
       "detail": {"field": "c"}, "order": {"field": "v", "type": "quantitative"}}},
    {"data": {"name": "stats"}, "transform": [{"filter": "datum.g == 'TR'"}, {"fold": ["wlo", "whi"], "as": ["k", "val"]},
       {"calculate": "datum.val == 0 ? '0' : format(datum.val, '.2f')", "as": "lab"}, {"calculate": "datum.pos + 0.25", "as": "lx"}],
     "mark": {"type": "text", "align": "left", "baseline": "middle", "font": "Liberation Serif", "fontSize": 18, "color": "#008000"},
     "encoding": {"x": {"field": "lx", "type": "quantitative", "scale": {"domain": [0.5, 5.75], "nice": false, "zero": false}},
       "y": {"field": "val", "type": "quantitative", "scale": {"domain": [23.25, 85.1], "nice": false, "zero": false}},
       "text": {"field": "lab"}}},
    {"data": {"name": "stats"}, "transform": [{"filter": "datum.g == 'TR'"},
       {"calculate": "format(datum.q75, '.2f')", "as": "lab"}, {"calculate": "datum.pos + 0.075", "as": "lx"}],
     "mark": {"type": "text", "align": "left", "baseline": "middle", "font": "Liberation Serif", "fontSize": 18, "color": "#008000"},
     "encoding": {"x": {"field": "lx", "type": "quantitative", "scale": {"domain": [0.5, 5.75], "nice": false, "zero": false}},
       "y": {"field": "q75", "type": "quantitative", "scale": {"domain": [23.25, 85.1], "nice": false, "zero": false}},
       "text": {"field": "lab"}}},
    {"data": {"name": "stats"}, "transform": [{"filter": "datum.g == 'TR'"},
       {"calculate": "format(datum.med, '.2f')", "as": "lab"}, {"calculate": "datum.pos + 0.42", "as": "lx"}],
     "mark": {"type": "text", "align": "left", "baseline": "middle", "font": "Liberation Serif", "fontSize": 18, "color": "#008000"},
     "encoding": {"x": {"field": "lx", "type": "quantitative", "scale": {"domain": [0.5, 5.75], "nice": false, "zero": false}},
       "y": {"field": "med", "type": "quantitative", "scale": {"domain": [23.25, 85.1], "nice": false, "zero": false}},
       "text": {"field": "lab"}}},
    {"data": {"name": "stats"}, "transform": [{"filter": "datum.g == 'TR'"},
       {"calculate": "format(datum.q25, '.2f')", "as": "lab"}, {"calculate": "datum.pos + 0.075", "as": "lx"}],
     "mark": {"type": "text", "align": "left", "baseline": "middle", "font": "Liberation Serif", "fontSize": 18, "color": "#008000"},
     "encoding": {"x": {"field": "lx", "type": "quantitative", "scale": {"domain": [0.5, 5.75], "nice": false, "zero": false}},
       "y": {"field": "q25", "type": "quantitative", "scale": {"domain": [23.25, 85.1], "nice": false, "zero": false}},
       "text": {"field": "lab"}}}
  ]}
  ]
},
{
  "width": 708, "height": 350,
  "resolve": {"scale": {"y": "independent"}},
  "layer": [
  {"layer": [
    {"data": {"name": "stats"},
     "transform": [{"filter": "datum.g == 'BL'"},
       {"calculate": "[datum.pos - 0.32, datum.pos, datum.pos + 0.32]", "as": "ax"},
       {"calculate": "[datum.med, datum.q75, datum.med]", "as": "ay"},
       {"calculate": "[datum.med, datum.q25, datum.med]", "as": "al"},
       {"flatten": ["ax", "ay", "al"]}],
     "mark": {"type": "area", "stroke": "black", "strokeWidth": 1, "opacity": 1,
       "fill": {"gradient": "linear", "x1": 0, "y1": 0.2, "x2": 1, "y2": 0, "stops": [
         {"offset": 0, "color": "#D0D0D0"},
         {"offset": 0.096, "color": "#D0D0D0"}, {"offset": 0.096, "color": "#000000"}, {"offset": 0.104, "color": "#000000"}, {"offset": 0.104, "color": "#D0D0D0"},
         {"offset": 0.216, "color": "#D0D0D0"}, {"offset": 0.216, "color": "#000000"}, {"offset": 0.224, "color": "#000000"}, {"offset": 0.224, "color": "#D0D0D0"},
         {"offset": 0.336, "color": "#D0D0D0"}, {"offset": 0.336, "color": "#000000"}, {"offset": 0.344, "color": "#000000"}, {"offset": 0.344, "color": "#D0D0D0"},
         {"offset": 0.456, "color": "#D0D0D0"}, {"offset": 0.456, "color": "#000000"}, {"offset": 0.464, "color": "#000000"}, {"offset": 0.464, "color": "#D0D0D0"},
         {"offset": 0.576, "color": "#D0D0D0"}, {"offset": 0.576, "color": "#000000"}, {"offset": 0.584, "color": "#000000"}, {"offset": 0.584, "color": "#D0D0D0"},
         {"offset": 0.696, "color": "#D0D0D0"}, {"offset": 0.696, "color": "#000000"}, {"offset": 0.704, "color": "#000000"}, {"offset": 0.704, "color": "#D0D0D0"},
         {"offset": 0.816, "color": "#D0D0D0"}, {"offset": 0.816, "color": "#000000"}, {"offset": 0.824, "color": "#000000"}, {"offset": 0.824, "color": "#D0D0D0"},
         {"offset": 1, "color": "#D0D0D0"}]}},
     "encoding": {
       "x": {"field": "ax", "type": "quantitative", "scale": {"domain": [0.5, 3.345], "nice": false, "zero": false},
         "axis": {"values": [1, 2, 2.92], "labelExpr": "datum.value < 1.5 ? 'Glass' : datum.value < 2.5 ? 'Metal' : 'Other waste'",
           "labelColor": {"condition": {"test": "datum.value > 2.5", "value": "#0000FF"}, "value": "black"},
           "ticks": false, "domain": false, "labelPadding": -26, "labelFontSize": 19, "title": "Physical components of MSW", "titleFontSize": 20, "titlePadding": 20, "titleX": 362, "labelOverlap": false, "labelFlush": false}},
       "y": {"field": "ay", "type": "quantitative", "stack": null, "scale": {"domain": [-2.98, 15.03], "nice": false, "zero": false},
         "axis": {"orient": "left", "values": [-2, 0, 2, 4, 6, 8, 10, 12, 14], "labelExpr": "replace(datum.label, '−', '-')", "title": "Mass percentage（%）", "tickSize": 7, "labelPadding": 2, "minExtent": 28, "maxExtent": 28, "titlePadding": 5, "domain": false}},
       "y2": {"field": "al"},
       "detail": {"field": "c"}}},
    {"data": {"name": "stats"}, "transform": [{"filter": "datum.g == 'BL'"}],
     "mark": {"type": "rule", "color": "black", "strokeWidth": 1.2},
     "encoding": {"x": {"field": "pos", "type": "quantitative", "scale": {"domain": [0.5, 3.345], "nice": false, "zero": false}},
       "y": {"field": "wlo", "type": "quantitative", "scale": {"domain": [-2.98, 15.03], "nice": false, "zero": false}},
       "y2": {"field": "whi"}}},
    {"data": {"name": "stats"}, "transform": [{"filter": "datum.g == 'BL'"}, {"fold": ["wlo", "whi"], "as": ["k", "val"]},
       {"calculate": "datum.pos - 0.16", "as": "cx1"}, {"calculate": "datum.pos + 0.16", "as": "cx2"}],
     "mark": {"type": "rule", "color": "black", "strokeWidth": 1.2},
     "encoding": {"x": {"field": "cx1", "type": "quantitative", "scale": {"domain": [0.5, 3.345], "nice": false, "zero": false}},
       "x2": {"field": "cx2"},
       "y": {"field": "val", "type": "quantitative", "scale": {"domain": [-2.98, 15.03], "nice": false, "zero": false}}}},
    {"data": {"name": "stats"}, "transform": [{"filter": "datum.g == 'BL'"},
       {"calculate": "datum.pos - 0.32", "as": "mx1"}, {"calculate": "datum.pos + 0.32", "as": "mx2"}],
     "mark": {"type": "rule", "color": "black", "strokeWidth": 1.2},
     "encoding": {"x": {"field": "mx1", "type": "quantitative", "scale": {"domain": [0.5, 3.345], "nice": false, "zero": false}},
       "x2": {"field": "mx2"},
       "y": {"field": "med", "type": "quantitative", "scale": {"domain": [-2.98, 15.03], "nice": false, "zero": false}}}},
    {"data": {"name": "pts"}, "transform": [{"lookup": "c", "from": {"data": {"name": "stats"}, "key": "c", "fields": ["pos", "g"]}},
       {"filter": "datum.g == 'BL'"}, {"calculate": "datum.pos + datum.dx", "as": "px"}],
     "mark": {"type": "point", "shape": "diamond", "filled": true, "color": "black", "size": 24, "opacity": 1},
     "encoding": {"x": {"field": "px", "type": "quantitative", "scale": {"domain": [0.5, 3.345], "nice": false, "zero": false}},
       "y": {"field": "v", "type": "quantitative", "scale": {"domain": [-2.98, 15.03], "nice": false, "zero": false}}}},
    {"data": {"name": "stats"}, "transform": [{"filter": "datum.g == 'BL'"}],
     "mark": {"type": "point", "shape": "circle", "filled": true, "color": "#FF0000", "size": 30, "opacity": 1},
     "encoding": {"x": {"field": "pos", "type": "quantitative", "scale": {"domain": [0.5, 3.345], "nice": false, "zero": false}},
       "y": {"field": "mean", "type": "quantitative", "scale": {"domain": [-2.98, 15.03], "nice": false, "zero": false}}}},
    {"data": {"name": "curve"}, "transform": [{"lookup": "c", "from": {"data": {"name": "stats"}, "key": "c", "fields": ["pos", "g"]}},
       {"filter": "datum.g == 'BL'"}, {"calculate": "datum.pos + datum.dx", "as": "px"}],
     "mark": {"type": "line", "color": "black", "strokeWidth": 1.5, "interpolate": "catmull-rom"},
     "encoding": {"x": {"field": "px", "type": "quantitative", "scale": {"domain": [0.5, 3.345], "nice": false, "zero": false}},
       "y": {"field": "v", "type": "quantitative", "scale": {"domain": [-2.98, 15.03], "nice": false, "zero": false}},
       "detail": {"field": "c"}, "order": {"field": "v", "type": "quantitative"}}},
    {"data": {"name": "stats"}, "transform": [{"filter": "datum.g == 'BL'"}, {"fold": ["wlo", "whi"], "as": ["k", "val"]},
       {"calculate": "datum.val == 0 ? '0' : format(datum.val, '.2f')", "as": "lab"}, {"calculate": "datum.pos + 0.2", "as": "lx"}],
     "mark": {"type": "text", "align": "left", "baseline": "middle", "font": "Liberation Serif", "fontSize": 18, "color": "black"},
     "encoding": {"x": {"field": "lx", "type": "quantitative", "scale": {"domain": [0.5, 3.345], "nice": false, "zero": false}},
       "y": {"field": "val", "type": "quantitative", "scale": {"domain": [-2.98, 15.03], "nice": false, "zero": false}},
       "text": {"field": "lab"}}},
    {"data": {"name": "stats"}, "transform": [{"filter": "datum.g == 'BL'"},
       {"calculate": "format(datum.q75, '.2f')", "as": "lab"}, {"calculate": "datum.pos + 0.137", "as": "lx"}],
     "mark": {"type": "text", "align": "left", "baseline": "middle", "font": "Liberation Serif", "fontSize": 18, "color": "black", "dy": -4},
     "encoding": {"x": {"field": "lx", "type": "quantitative", "scale": {"domain": [0.5, 3.345], "nice": false, "zero": false}},
       "y": {"field": "q75", "type": "quantitative", "scale": {"domain": [-2.98, 15.03], "nice": false, "zero": false}},
       "text": {"field": "lab"}}},
    {"data": {"name": "stats"}, "transform": [{"filter": "datum.g == 'BL'"},
       {"calculate": "format(datum.med, '.2f')", "as": "lab"}, {"calculate": "datum.pos + 0.33", "as": "lx"}],
     "mark": {"type": "text", "align": "left", "baseline": "middle", "font": "Liberation Serif", "fontSize": 18, "color": "black"},
     "encoding": {"x": {"field": "lx", "type": "quantitative", "scale": {"domain": [0.5, 3.345], "nice": false, "zero": false}},
       "y": {"field": "med", "type": "quantitative", "scale": {"domain": [-2.98, 15.03], "nice": false, "zero": false}},
       "text": {"field": "lab"}}},
    {"data": {"name": "stats"}, "transform": [{"filter": "datum.g == 'BL'"},
       {"calculate": "format(datum.q25, '.2f')", "as": "lab"}, {"calculate": "datum.pos + 0.27", "as": "lx"}],
     "mark": {"type": "text", "align": "left", "baseline": "middle", "font": "Liberation Serif", "fontSize": 18, "color": "black", "dy": 4},
     "encoding": {"x": {"field": "lx", "type": "quantitative", "scale": {"domain": [0.5, 3.345], "nice": false, "zero": false}},
       "y": {"field": "q25", "type": "quantitative", "scale": {"domain": [-2.98, 15.03], "nice": false, "zero": false}},
       "text": {"field": "lab"}}}
  ]},
  {"layer": [
    {"data": {"name": "stats"},
     "transform": [{"filter": "datum.g == 'BR'"},
       {"calculate": "[datum.pos - 0.285, datum.pos, datum.pos + 0.285]", "as": "ax"},
       {"calculate": "[datum.med, datum.q75, datum.med]", "as": "ay"},
       {"calculate": "[datum.med, datum.q25, datum.med]", "as": "al"},
       {"flatten": ["ax", "ay", "al"]}],
     "mark": {"type": "area", "stroke": "#0000FF", "strokeWidth": 1, "opacity": 1,
       "fill": {"gradient": "linear", "x1": 0, "y1": 0.66, "x2": 1, "y2": 0, "stops": [
         {"offset": 0, "color": "#D0D0D0"},
         {"offset": 0.037, "color": "#D0D0D0"}, {"offset": 0.037, "color": "#0000FF"}, {"offset": 0.043, "color": "#0000FF"}, {"offset": 0.043, "color": "#D0D0D0"},
         {"offset": 0.117, "color": "#D0D0D0"}, {"offset": 0.117, "color": "#0000FF"}, {"offset": 0.123, "color": "#0000FF"}, {"offset": 0.123, "color": "#D0D0D0"},
         {"offset": 0.197, "color": "#D0D0D0"}, {"offset": 0.197, "color": "#0000FF"}, {"offset": 0.203, "color": "#0000FF"}, {"offset": 0.203, "color": "#D0D0D0"},
         {"offset": 0.277, "color": "#D0D0D0"}, {"offset": 0.277, "color": "#0000FF"}, {"offset": 0.283, "color": "#0000FF"}, {"offset": 0.283, "color": "#D0D0D0"},
         {"offset": 0.357, "color": "#D0D0D0"}, {"offset": 0.357, "color": "#0000FF"}, {"offset": 0.363, "color": "#0000FF"}, {"offset": 0.363, "color": "#D0D0D0"},
         {"offset": 0.437, "color": "#D0D0D0"}, {"offset": 0.437, "color": "#0000FF"}, {"offset": 0.443, "color": "#0000FF"}, {"offset": 0.443, "color": "#D0D0D0"},
         {"offset": 0.517, "color": "#D0D0D0"}, {"offset": 0.517, "color": "#0000FF"}, {"offset": 0.523, "color": "#0000FF"}, {"offset": 0.523, "color": "#D0D0D0"},
         {"offset": 0.597, "color": "#D0D0D0"}, {"offset": 0.597, "color": "#0000FF"}, {"offset": 0.603, "color": "#0000FF"}, {"offset": 0.603, "color": "#D0D0D0"},
         {"offset": 1, "color": "#D0D0D0"}]}},
     "encoding": {
       "x": {"field": "ax", "type": "quantitative", "scale": {"domain": [0.5, 3.345], "nice": false, "zero": false}},
       "y": {"field": "ay", "type": "quantitative", "stack": null, "scale": {"domain": [-7.82, 45.1], "nice": false, "zero": false},
         "axis": {"orient": "right", "values": [0, 10, 20, 30, 40], "title": null, "labelColor": "#0000FF", "tickColor": "#0000FF", "tickSize": -5, "labelPadding": 10, "domain": false}},
       "y2": {"field": "al"},
       "detail": {"field": "c"}}},
    {"data": {"name": "stats"}, "transform": [{"filter": "datum.g == 'BR'"}],
     "mark": {"type": "rule", "color": "#0000FF", "strokeWidth": 1.2},
     "encoding": {"x": {"field": "pos", "type": "quantitative", "scale": {"domain": [0.5, 3.345], "nice": false, "zero": false}},
       "y": {"field": "wlo", "type": "quantitative", "scale": {"domain": [-7.82, 45.1], "nice": false, "zero": false}},
       "y2": {"field": "whi"}}},
    {"data": {"name": "stats"}, "transform": [{"filter": "datum.g == 'BR'"}, {"fold": ["wlo", "whi"], "as": ["k", "val"]},
       {"calculate": "datum.pos - 0.14", "as": "cx1"}, {"calculate": "datum.pos + 0.14", "as": "cx2"}],
     "mark": {"type": "rule", "color": "#0000FF", "strokeWidth": 1.2},
     "encoding": {"x": {"field": "cx1", "type": "quantitative", "scale": {"domain": [0.5, 3.345], "nice": false, "zero": false}},
       "x2": {"field": "cx2"},
       "y": {"field": "val", "type": "quantitative", "scale": {"domain": [-7.82, 45.1], "nice": false, "zero": false}}}},
    {"data": {"name": "stats"}, "transform": [{"filter": "datum.g == 'BR'"},
       {"calculate": "datum.pos - 0.285", "as": "mx1"}, {"calculate": "datum.pos + 0.285", "as": "mx2"}],
     "mark": {"type": "rule", "color": "#0000FF", "strokeWidth": 1.2},
     "encoding": {"x": {"field": "mx1", "type": "quantitative", "scale": {"domain": [0.5, 3.345], "nice": false, "zero": false}},
       "x2": {"field": "mx2"},
       "y": {"field": "med", "type": "quantitative", "scale": {"domain": [-7.82, 45.1], "nice": false, "zero": false}}}},
    {"data": {"name": "pts"}, "transform": [{"lookup": "c", "from": {"data": {"name": "stats"}, "key": "c", "fields": ["pos", "g"]}},
       {"filter": "datum.g == 'BR'"}, {"calculate": "datum.pos + datum.dx", "as": "px"}],
     "mark": {"type": "point", "shape": "diamond", "filled": true, "color": "#0000FF", "size": 24, "opacity": 1},
     "encoding": {"x": {"field": "px", "type": "quantitative", "scale": {"domain": [0.5, 3.345], "nice": false, "zero": false}},
       "y": {"field": "v", "type": "quantitative", "scale": {"domain": [-7.82, 45.1], "nice": false, "zero": false}}}},
    {"data": {"name": "stats"}, "transform": [{"filter": "datum.g == 'BR'"}],
     "mark": {"type": "point", "shape": "circle", "filled": true, "color": "#FF0000", "size": 30, "opacity": 1},
     "encoding": {"x": {"field": "pos", "type": "quantitative", "scale": {"domain": [0.5, 3.345], "nice": false, "zero": false}},
       "y": {"field": "mean", "type": "quantitative", "scale": {"domain": [-7.82, 45.1], "nice": false, "zero": false}}}},
    {"data": {"name": "curve"}, "transform": [{"lookup": "c", "from": {"data": {"name": "stats"}, "key": "c", "fields": ["pos", "g"]}},
       {"filter": "datum.g == 'BR'"}, {"calculate": "datum.pos + datum.dx", "as": "px"}],
     "mark": {"type": "line", "color": "#0000FF", "strokeWidth": 1.5, "interpolate": "catmull-rom"},
     "encoding": {"x": {"field": "px", "type": "quantitative", "scale": {"domain": [0.5, 3.345], "nice": false, "zero": false}},
       "y": {"field": "v", "type": "quantitative", "scale": {"domain": [-7.82, 45.1], "nice": false, "zero": false}},
       "detail": {"field": "c"}, "order": {"field": "v", "type": "quantitative"}}},
    {"data": {"name": "stats"}, "transform": [{"filter": "datum.g == 'BR'"}, {"fold": ["wlo", "whi"], "as": ["k", "val"]},
       {"calculate": "datum.val == 0 ? '0' : format(datum.val, '.2f')", "as": "lab"}, {"calculate": "datum.pos + 0.17", "as": "lx"}],
     "mark": {"type": "text", "align": "left", "baseline": "middle", "font": "Liberation Serif", "fontSize": 18, "color": "#0000FF"},
     "encoding": {"x": {"field": "lx", "type": "quantitative", "scale": {"domain": [0.5, 3.345], "nice": false, "zero": false}},
       "y": {"field": "val", "type": "quantitative", "scale": {"domain": [-7.82, 45.1], "nice": false, "zero": false}},
       "text": {"field": "lab"}}},
    {"data": {"name": "stats"}, "transform": [{"filter": "datum.g == 'BR'"},
       {"calculate": "format(datum.q75, '.2f')", "as": "lab"}, {"calculate": "datum.pos + 0.145", "as": "lx"}],
     "mark": {"type": "text", "align": "left", "baseline": "middle", "font": "Liberation Serif", "fontSize": 18, "color": "#0000FF"},
     "encoding": {"x": {"field": "lx", "type": "quantitative", "scale": {"domain": [0.5, 3.345], "nice": false, "zero": false}},
       "y": {"field": "q75", "type": "quantitative", "scale": {"domain": [-7.82, 45.1], "nice": false, "zero": false}},
       "text": {"field": "lab"}}},
    {"data": {"name": "stats"}, "transform": [{"filter": "datum.g == 'BR'"},
       {"calculate": "format(datum.med, '.2f')", "as": "lab"}, {"calculate": "datum.pos + 0.292", "as": "lx"}],
     "mark": {"type": "text", "align": "left", "baseline": "middle", "font": "Liberation Serif", "fontSize": 18, "color": "#0000FF"},
     "encoding": {"x": {"field": "lx", "type": "quantitative", "scale": {"domain": [0.5, 3.345], "nice": false, "zero": false}},
       "y": {"field": "med", "type": "quantitative", "scale": {"domain": [-7.82, 45.1], "nice": false, "zero": false}},
       "text": {"field": "lab"}}},
    {"data": {"name": "stats"}, "transform": [{"filter": "datum.g == 'BR'"},
       {"calculate": "format(datum.q25, '.2f')", "as": "lab"}, {"calculate": "datum.pos + 0.14", "as": "lx"}],
     "mark": {"type": "text", "align": "left", "baseline": "middle", "font": "Liberation Serif", "fontSize": 18, "color": "#0000FF"},
     "encoding": {"x": {"field": "lx", "type": "quantitative", "scale": {"domain": [0.5, 3.345], "nice": false, "zero": false}},
       "y": {"field": "q25", "type": "quantitative", "scale": {"domain": [-7.82, 45.1], "nice": false, "zero": false}},
       "text": {"field": "lab"}}}
  ]}
  ]
}
]
}
